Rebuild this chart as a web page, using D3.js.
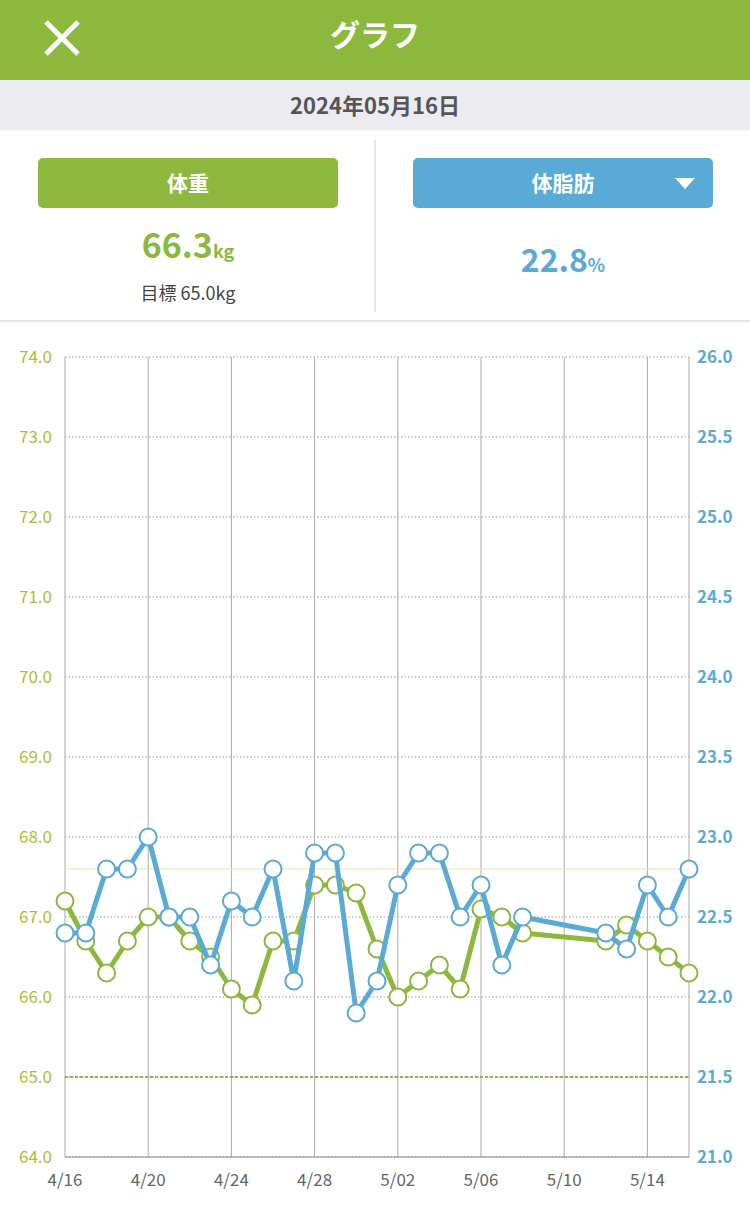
<!DOCTYPE html>
<html><head><meta charset="utf-8">
<script src="https://cdn.jsdelivr.net/npm/d3@7"></script>
<style>body{margin:0;background:#fff;font-family:"Noto Sans CJK JP","Noto Sans",sans-serif}</style>
</head><body><svg id="c" width="750" height="1206"></svg>
<script>
// data
var days = ["4/16","4/17","4/18","4/19","4/20","4/21","4/22","4/23","4/24","4/25","4/26","4/27","4/28","4/29","4/30","5/01","5/02","5/03","5/04","5/05","5/06","5/07","5/08","5/12","5/13","5/14","5/15","5/16"];
var weight = [67.2,66.7,66.3,66.7,67.0,67.0,66.7,66.5,66.1,65.9,66.7,66.7,67.4,67.4,67.3,66.6,66.0,66.2,66.4,66.1,67.1,67.0,66.8,66.7,66.9,66.7,66.5,66.3];
var fat = [22.4,22.4,22.8,22.8,23.0,22.5,22.5,22.2,22.6,22.5,22.8,22.1,22.9,22.9,21.9,22.1,22.7,22.9,22.9,22.5,22.7,22.2,22.5,22.4,22.3,22.7,22.5,22.8];
var tickDays = ["4/16","4/20","4/24","4/28","5/02","5/06","5/10","5/14"];
var leftTicks = [64,65,66,67,68,69,70,71,72,73,74];
var rightTicks = [21,21.5,22,22.5,23,23.5,24,24.5,25,25.5,26];
var goalWeight = 65.0, fatNow = 22.8;

var G = "#8cb83e", B = "#5aaad6";
var svg = d3.select("#c");
var parse = s => { var p = s.split("/"); return new Date(2024, +p[0]-1, +p[1]); };

// header
svg.append("rect").attr("width",750).attr("height",80).attr("fill",G);
svg.append("text").attr("x",375).attr("y",46).attr("text-anchor","middle").attr("fill","#fff")
  .attr("font-size",30).attr("font-weight","bold").text("グラフ");
svg.append("path").attr("d","M46,22L78,54M78,22L46,54").attr("stroke","#fff").attr("stroke-width",5);
svg.append("rect").attr("y",80).attr("width",750).attr("height",50).attr("fill","#ebebf0");
svg.append("text").attr("x",375).attr("y",114).attr("text-anchor","middle").attr("fill","#555")
  .attr("font-size",22).attr("font-weight","bold").text("2024年05月16日");

// value panels
svg.append("rect").attr("x",38).attr("y",158).attr("width",300).attr("height",50).attr("rx",5).attr("fill",G);
svg.append("text").attr("x",188).attr("y",191).attr("text-anchor","middle").attr("fill","#fff").attr("font-size",21).attr("font-weight","bold").text("体重");
svg.append("rect").attr("x",413).attr("y",158).attr("width",300).attr("height",50).attr("rx",5).attr("fill",B);
svg.append("text").attr("x",563).attr("y",191).attr("text-anchor","middle").attr("fill","#fff").attr("font-size",21).attr("font-weight","bold").text("体脂肪");
svg.append("path").attr("d","M675,178L695,178L685,189Z").attr("fill","#fff");
var t1 = svg.append("text").attr("x",188).attr("y",258).attr("text-anchor","middle").attr("fill",G).attr("font-weight","bold");
t1.append("tspan").attr("font-size",34).text("66.3");
t1.append("tspan").attr("font-size",18).text("kg");
svg.append("text").attr("x",188).attr("y",300).attr("text-anchor","middle").attr("fill","#444").attr("font-size",18).text("目標 65.0kg");
var t2 = svg.append("text").attr("x",563).attr("y",272).attr("text-anchor","middle").attr("fill",B).attr("font-weight","bold");
t2.append("tspan").attr("font-size",32).text("22.8");
t2.append("tspan").attr("font-size",18).text("%");
svg.append("line").attr("x1",375).attr("x2",375).attr("y1",140).attr("y2",312).attr("stroke","#ccc");
svg.append("line").attr("x1",0).attr("x2",750).attr("y1",321).attr("y2",321).attr("stroke","#ccc");

// chart
var x = d3.scaleTime().domain([parse("4/16"), parse("5/16")]).range([65,689]);
var yL = d3.scaleLinear().domain([64,74]).range([1157,357]);
var yR = d3.scaleLinear().domain([21,26]).range([1157,357]);

svg.append("g").selectAll("line").data(leftTicks).join("line")
  .attr("x1",65).attr("x2",689).attr("y1",d=>yL(d)).attr("y2",d=>yL(d))
  .attr("stroke","#999").attr("stroke-dasharray","1.5,2");
svg.append("g").selectAll("line").data(tickDays).join("line")
  .attr("x1",d=>x(parse(d))).attr("x2",d=>x(parse(d))).attr("y1",357).attr("y2",1157).attr("stroke","#aaa");
svg.append("line").attr("x1",689).attr("x2",689).attr("y1",357).attr("y2",1157).attr("stroke","#aaa");
svg.append("line").attr("x1",65).attr("x2",689).attr("y1",1157).attr("y2",1157).attr("stroke","#888");
svg.append("line").attr("x1",65).attr("x2",689).attr("y1",yL(goalWeight)).attr("y2",yL(goalWeight))
  .attr("stroke",G).attr("stroke-width",2).attr("stroke-dasharray","3,2");
svg.append("line").attr("x1",65).attr("x2",689).attr("y1",yR(fatNow)).attr("y2",yR(fatNow)).attr("stroke","#ece0a8");

svg.append("g").selectAll("text").data(leftTicks).join("text")
  .attr("x",52).attr("y",d=>yL(d)+6).attr("text-anchor","end").attr("fill","#a5bf3e").attr("font-size",17)
  .text(d=>d.toFixed(1));
svg.append("g").selectAll("text").data(rightTicks).join("text")
  .attr("x",697).attr("y",d=>yR(d)+6).attr("fill",B).attr("font-size",17).attr("font-weight","bold")
  .text(d=>d.toFixed(1));
svg.append("g").selectAll("text").data(tickDays).join("text")
  .attr("x",d=>x(parse(d))).attr("y",1186).attr("text-anchor","middle").attr("fill","#666").attr("font-size",17)
  .text(d=>d);

function series(vals, y, col) {
  var pts = days.map((d,i)=>[x(parse(d)), y(vals[i])]);
  svg.append("path").attr("d", d3.line()(pts)).attr("fill","none").attr("stroke",col).attr("stroke-width",5).attr("stroke-linejoin","round");
  svg.append("g").selectAll("circle").data(pts).join("circle")
    .attr("cx",p=>p[0]).attr("cy",p=>p[1]).attr("r",8.5).attr("fill","#fff").attr("stroke",col).attr("stroke-width",2);
}
series(weight, yL, G);
series(fat, yR, B);
</script></body></html>
